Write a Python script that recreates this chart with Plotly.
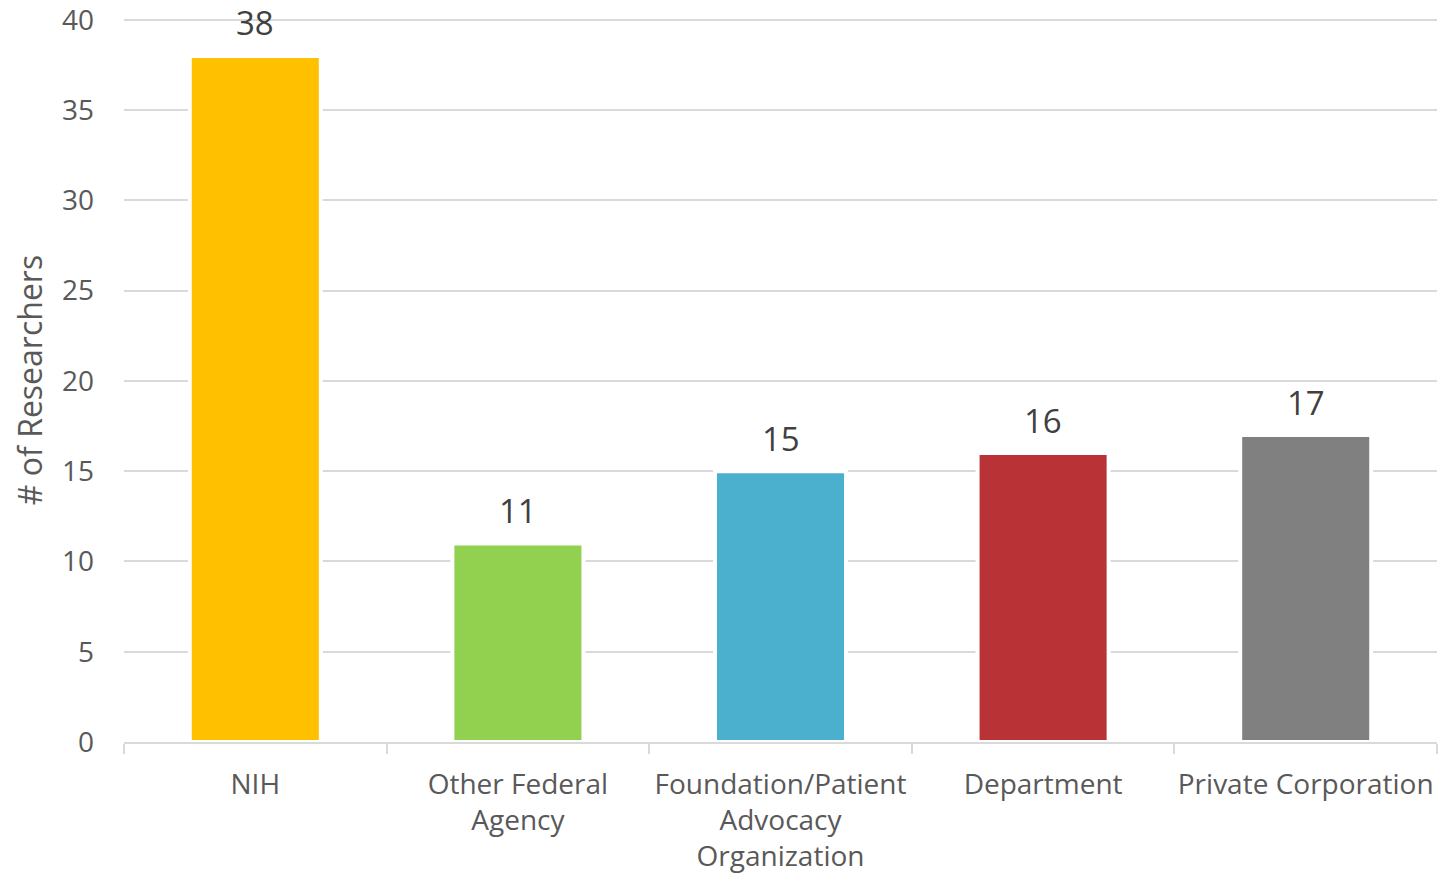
import plotly.graph_objects as go

categories = ["NIH", "Other Federal<br>Agency", "Foundation/Patient<br>Advocacy<br>Organization", "Department", "Private Corporation"]
values = [38, 11, 15, 16, 17]
colors = ["#FFC000", "#92D050", "#4BAFCE", "#B83236", "#808080"]
y_ticks = [0, 5, 10, 15, 20, 25, 30, 35, 40]

FONT = "Open Sans"

fig = go.Figure(go.Bar(
    x=categories, y=values,
    marker=dict(color=colors, line=dict(color="white", width=4)),
    cliponaxis=False,
))

for c, v in zip(categories, values):
    fig.add_annotation(
        x=c, y=v, text=str(v), showarrow=False,
        yanchor="middle", yshift=33,
        font=dict(family=FONT, size=33, color="#404040"),
    )

fig.update_layout(
    width=1447, height=869,
    margin=dict(l=116, r=18, t=10, b=135, autoexpand=False),
    paper_bgcolor="white", plot_bgcolor="white",
    bargap=0.501, showlegend=False,
    font=dict(family=FONT, color="#595959"),
)
fig.update_xaxes(
    automargin=False, tickangle=0,
    showline=True, linecolor="#D9D9D9", linewidth=2,
    ticks="outside", tickson="boundaries", ticklen=10, tickcolor="#D9D9D9", tickwidth=2,
    tickfont=dict(family=FONT, size=28, color="#595959"),
    ticklabelstandoff=16,
    showgrid=False,
)
fig.update_yaxes(
    automargin=False,
    range=[0, 40.1], tickvals=y_ticks,
    showgrid=True, gridcolor="#D9D9D9", gridwidth=2,
    zeroline=False, showline=False, ticks="",
    tickfont=dict(family=FONT, size=28, color="#595959"),
    ticklabelstandoff=29, ticklabeloverflow="allow",
    title=dict(text="# of Researchers", font=dict(family=FONT, size=32, color="#595959"), standoff=10),
)

fig.write_html("out.html")
